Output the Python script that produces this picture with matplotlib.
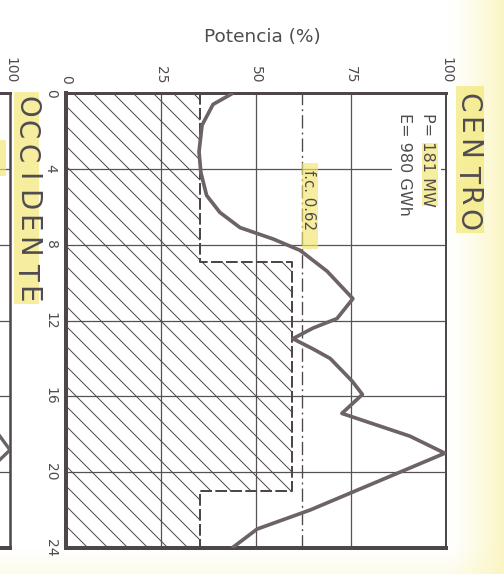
import numpy as np
import matplotlib
matplotlib.use("Agg")
import matplotlib.pyplot as plt
from matplotlib.patches import Rectangle

W, H, DPI = 505, 574, 120

# ---------------- data ----------------
hour_ticks = [0, 4, 8, 12, 16, 20, 24]
hour_labels = ["0", "4", "8", "12", "16", "20", "24"]
power_ticks = [0, 25, 50, 75, 100]
power_labels = ["0", "25", "50", "75", "100"]

# daily load curve (hour, % of peak)
load_hours = [0.0, 0.6, 1.7, 3.1, 4.2, 5.4, 6.3, 7.1, 7.7, 8.3, 9.4, 10.85,
              11.9, 12.4, 12.96, 13.5, 14.0, 14.7, 15.2, 15.9, 16.9, 18.1,
              19.0, 22.0, 23.0, 24.0]
load_power = [44.0, 38.7, 35.8, 35.0, 35.5, 37.0, 40.5, 45.8, 54.5, 61.6, 68.7, 75.5,
              71.3, 65.0, 59.7, 65.0, 69.5, 72.9, 75.3, 78.0, 72.6, 90.5,
              99.7, 64.2, 50.3, 43.7]

# hatched block (base supply)
step_hours = [0, 8.9, 8.9, 21.0, 21.0, 24]
step_power = [35.3, 35.3, 59.5, 59.5, 35.3, 35.3]

load_factor = 62
title = "CENTRO"
info_p = "P= 181 MW"
info_e = "E= 980 GWh"
fc_label = "f.c. 0.62"
axis_title = "Potencia (%)"

# neighbouring (cut-off) chart: only its right edge is visible
other_title = "OCCIDENTE"
other_hours = [17.9, 18.83, 19.6]
other_power = [96.6, 100.0, 96.0]
other_power_ticks = [100]
other_power_labels = ["100"]

# ---------------- style ----------------
plt.rcParams["font.family"] = ["DejaVu Sans"]
plt.rcParams["lines.scale_dashes"] = False
plt.rcParams["hatch.linewidth"] = 0.6
HATCH_C = "#4e4a4e"
plt.rcParams["hatch.color"] = HATCH_C
FRAME_C = "#4d474c"
GRID_C = "#575256"
CURVE_C = "#6c6268"
TXT_C = "#4f4b50"
HL_C = "#f2e66a"

fig = plt.figure(figsize=(W / DPI, H / DPI), dpi=DPI)


def fx(x):
    return x / W


def fy(y):
    return 1 - y / H


# background (scanned paper tint)
bg = fig.add_axes([0, 0, 1, 1], zorder=-10)
bg.axis("off")
yy, xx = np.mgrid[0:H, 0:W]
t = np.clip((xx - 448) / 57.0, 0, 1) ** 1.2
b = np.clip((yy - 548) / 26.0, 0, 1) * 0.35
k = np.clip(t + b * (1 - t), 0, 1)
tint = np.array([0.985, 0.962, 0.76])
img = (1 - k[..., None]) * np.ones(3) + k[..., None] * tint
bg.imshow(img, extent=[0, 1, 0, 1], aspect="auto", origin="upper", interpolation="bilinear")
bg.set_xlim(0, 1)
bg.set_ylim(0, 1)


def setup_axes(ax, xt, xl, yt, yl):
    ax.set_xlim(0, 100)
    ax.set_ylim(24, 0)
    ax.set_facecolor("none")
    for p in power_ticks[1:-1]:
        ax.axvline(p, color=GRID_C, lw=0.75, zorder=1)
    for h in hour_ticks[1:-1]:
        ax.axhline(h, color=GRID_C, lw=0.75, zorder=1)
    ax.spines["left"].set_linewidth(2.4)
    ax.spines["top"].set_linewidth(1.8)
    ax.spines["bottom"].set_linewidth(2.4)
    ax.spines["right"].set_linewidth(1.2)
    for s in ax.spines.values():
        s.set_color(FRAME_C)
    ax.xaxis.tick_top()
    ax.set_xticks(xt)
    ax.set_xticklabels(xl, rotation=-90, fontsize=8.3, color=TXT_C)
    ax.tick_params(axis="x", length=0, pad=5.5)
    ax.set_yticks(yt)
    ax.set_yticklabels(yl, rotation=-90, va="center", fontsize=8.3, color=TXT_C)
    ax.tick_params(axis="y", length=0, pad=5)


# main chart
ax = fig.add_axes([fx(66), fy(548), 380 / W, 455 / H])
setup_axes(ax, power_ticks, power_labels, hour_ticks, hour_labels)
ax.fill_betweenx(step_hours, 0, step_power, facecolor="none", edgecolor=HATCH_C,
                 hatch="\\\\", linewidth=0, zorder=1)
ax.plot(step_power, step_hours, color=FRAME_C, lw=1.2, ls=(0, (7, 2)), zorder=2)
ax.axvline(load_factor, color=FRAME_C, lw=0.8, ls=(0, (8, 2.4, 1.2, 2.4)), zorder=2)
ax.plot(load_power, load_hours, color=CURVE_C, lw=2.2, zorder=3,
        solid_joinstyle="round", solid_capstyle="butt")

# neighbouring chart, cut off at the left edge
oax = fig.add_axes([fx(10 - 380), fy(548), 380 / W, 455 / H])
setup_axes(oax, other_power_ticks, other_power_labels, [], [])
oax.spines["right"].set_linewidth(1.5)
oax.plot(other_power, other_hours, color=CURVE_C, lw=2.0, zorder=3)

# highlighter marks
for (x0, y0, x1, y1) in [(456, 86, 484, 233), (14, 92, 39, 304), (422, 143, 438, 206),
                         (302, 163, 318, 249), (0, 140, 6, 176)]:
    fig.add_artist(Rectangle((fx(x0), fy(y1)), (x1 - x0) / W, (y1 - y0) / H,
                             transform=fig.transFigure, facecolor=HL_C, edgecolor="none",
                             alpha=0.65, zorder=2))
# gap in the 4 h grid line behind the info text
fig.add_artist(Rectangle((fx(392), fy(172)), 49 / W, 10 / H, transform=fig.transFigure,
                         facecolor="white", edgecolor="none", zorder=1.5))


def spaced_vtext(s, x_base, y_first, pitch, size_px):
    for i, ch in enumerate(s):
        fig.text(fx(x_base), fy(y_first + i * pitch), ch, rotation=-90,
                 rotation_mode="anchor", ha="center", va="baseline",
                 fontsize=size_px * 72 / DPI, color=TXT_C, zorder=3)


spaced_vtext(title, 459, 102.5, 23.5, 28)
spaced_vtext(other_title, 18, 106.5, 23.5, 27.5)

for s, xb in [(info_p, 423), (info_e, 400)]:
    fig.text(fx(xb), fy(113), s, rotation=-90, rotation_mode="anchor", ha="left",
             va="baseline", fontsize=16 * 72 / DPI, color=TXT_C, zorder=3)
fig.text(fx(304), fy(170), fc_label, rotation=-90, rotation_mode="anchor", ha="left",
         va="baseline", fontsize=15 * 72 / DPI, color=TXT_C, zorder=3)

fig.text(fx(262.5), fy(41.5), axis_title, ha="center", va="baseline",
         fontsize=18.5 * 72 / DPI, color=TXT_C)

fig.savefig("out.png", dpi=DPI)
